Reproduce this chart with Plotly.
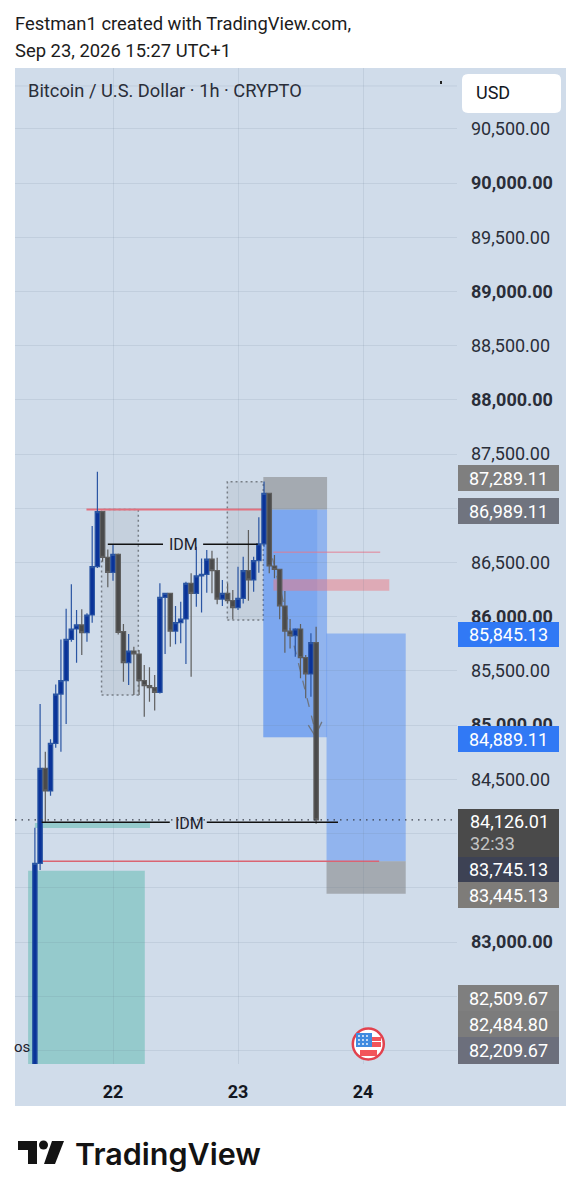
import plotly.graph_objects as go

# ---------- data ----------
hours = list(range(-15, 40))
opens = [81700,83726,84602,84393,84832,85287,85410,85791,85887,85924,85853,86016,86462,86969,86548,86409,86575,85862,85576,85684,85656,85410,85364,85346,85303,86179,86216,85868,85945,85979,86308,86216,86376,86391,86532,86425,86163,86216,86148,86084,86170,86425,86339,86517,86671,87138,86468,86437,86099,85868,85825,85887,85622,85472,85761]
highs = [84054,85195,84755,84869,85376,85791,86074,86299,86062,86068,86031,86837,87338,86969,86621,86661,86584,85933,85841,85724,85693,85555,85533,85463,86308,86222,86216,86099,86139,86323,86400,86646,86538,86615,86609,86545,86339,86308,86246,86462,86554,86800,86554,86917,87246,87138,86569,86437,86237,85979,85893,85933,85647,85847,85908]
lows = [81600,83664,84110,84350,84792,84755,85011,85770,85576,85647,85770,85945,86450,86508,86271,86332,85837,85401,85370,85278,85278,85078,85216,85134,85293,85656,85724,85745,85755,85564,85447,86093,86040,86222,86216,86114,86099,86123,85976,86062,86123,86148,86231,86406,86646,86400,86354,85976,85668,85708,85632,85432,85247,85263,84090]
closes = [83726,84602,84393,84832,85287,85410,85791,85887,85924,85853,86016,86462,86969,86548,86409,86575,85856,85576,85684,85656,85410,85364,85346,85303,86179,86216,85868,85945,85979,86308,86216,86376,86391,86532,86425,86163,86216,86148,86084,86170,86425,86339,86517,86671,87138,86468,86437,86099,85868,85825,85887,85622,85472,85761,84126.01]

price_ticks = list(range(82000, 90501, 500))
hidden_ticks = [82000, 82500, 83500, 84000, 87000]   # covered by the price flags in the reference
day_hours = [0, 24, 48]
day_labels = ["22", "23", "24"]
Y_RANGE = [81875, 91060.6]
X_RANGE = [-18.82, 66.05]

BG = "#d0dcea"
GRID = "rgba(110,125,150,0.15)"

# page pixel helpers for the page furniture (header, flags, logo)
def X(px):
    return (px - 15) / 442
def Y(py):
    return (1064 - py) / 996

fig = go.Figure(go.Candlestick(
    x=hours, open=opens, high=highs, low=lows, close=closes,
    increasing=dict(line=dict(color="#2a55a3", width=1.2), fillcolor="#0a3399"),
    decreasing=dict(line=dict(color="#5e5e5e", width=1.2), fillcolor="#4a4a4a"),
    whiskerwidth=0, showlegend=False, hoverinfo="skip",
))

shapes = []
def rect(x0, x1, y0, y1, fill, layer="below", line=None):
    shapes.append(dict(type="rect", xref="x", yref="y", x0=x0, x1=x1, y0=y0, y1=y1,
                       fillcolor=fill, line=line or dict(width=0), layer=layer))
def hline(x0, x1, y, color, width=1, dash="solid", layer="below"):
    shapes.append(dict(type="line", xref="x", yref="y", x0=x0, x1=x1, y0=y, y1=y,
                       line=dict(color=color, width=width, dash=dash), layer=layer))
def prect(x0, x1, y0, y1, fill, layer="below"):
    shapes.append(dict(type="rect", xref="paper", yref="paper", x0=X(x0), x1=X(x1), y0=Y(y1), y1=Y(y0),
                       fillcolor=fill, line=dict(width=0), layer=layer))

# panel band around the pane (price scale + time scale)
prect(15, 566, 68, 1106, BG)

# drawings
dotted = dict(color="#777d85", width=1.5, dash="2px,3px")
rect(-2.2, 4.86, 85278, 86989, "rgba(120,130,140,0.13)", line=dotted)
rect(21.95, 28.86, 85970, 87245, "rgba(120,130,140,0.13)", line=dotted)

rect(28.86, 41.1, 84889.11, 86989.11, "rgba(49,121,245,0.40)")
rect(28.86, 39.2, 84889.11, 86989.11, "rgba(49,121,245,0.22)")
rect(28.86, 41.1, 86989.11, 87289.11, "rgba(120,120,120,0.5)")
rect(41.0, 56.2, 83745.13, 85845.13, "rgba(49,121,245,0.40)")
rect(41.0, 56.2, 83445.13, 83745.13, "rgba(120,120,120,0.5)")

rect(30.8, 53.05, 86240, 86345, "rgba(236,120,130,0.5)")
hline(30.8, 51.3, 86594, "rgba(230,120,140,0.6)", 1.5)
hline(-5.1, 28.86, 86989.11, "#e4707e", 2)
hline(-13.7, 51.1, 83745.13, "#da6472", 1.5)

rect(-16.3, 6.1, 81875, 83658, "rgba(60,175,160,0.40)")
rect(-15, 7.1, 84052, 84098, "rgba(60,175,160,0.40)")

hline(-18.82, 66.05, 84126.01, "#3a3f4a", 1.4, "1.5px,5px", layer="above")
hline(-1, 9.6, 86668, "#111111", 1.6, layer="above")
hline(17.3, 27.8, 86668, "#111111", 1.6, layer="above")
hline(-13.7, 10.9, 84104, "#111111", 1.6, layer="above")
hline(18, 43.2, 84104, "#111111", 1.6, layer="above")

# dashed arrow
shapes.append(dict(type="line", xref="x", yref="y", x0=29.8, x1=38.8, y0=86700, y1=84950,
                   line=dict(color="#6e7682", width=1.3, dash="dash"), layer="below"))
shapes.append(dict(type="path", xref="x", yref="y", path="M 37.5 85000 L 38.8 84900 L 40.1 85030",
                   line=dict(color="#6e7682", width=1.3), layer="below"))

# faint line at the top of the pane
hline(-18.82, 66.05, 90895, GRID, 1)
prect(440, 442, 81, 84, "#222222", layer="above")

# USD button
def rounded(x0, y0, x1, y1, r):
    p = lambda a, b: f"{X(a):.5f} {Y(b):.5f}"
    return (f"M {p(x0+r,y0)} L {p(x1-r,y0)} Q {p(x1,y0)} {p(x1,y0+r)} L {p(x1,y1-r)} Q {p(x1,y1)} {p(x1-r,y1)} "
            f"L {p(x0+r,y1)} Q {p(x0,y1)} {p(x0,y1-r)} L {p(x0,y0+r)} Q {p(x0,y0)} {p(x0+r,y0)} Z")
shapes.append(dict(type="path", xref="paper", yref="paper", path=rounded(462, 74, 561, 113, 6),
                   fillcolor="#ffffff", line=dict(width=0), layer="above"))

# event flag icon
def circle(cx, cy, r, fill, line=None):
    shapes.append(dict(type="circle", xref="paper", yref="paper", x0=X(cx-r), x1=X(cx+r), y0=Y(cy+r), y1=Y(cy-r),
                       fillcolor=fill, line=line or dict(width=0), layer="above"))
circle(368.3, 1044, 15.5, "#ffffff", dict(color="#e2424e", width=2.5))
prect(356, 372, 1033, 1047, "#3f8be0", layer="above")
prect(372, 381, 1037, 1041, "#f2555a", layer="above")
prect(372, 381, 1042, 1047, "#f2555a", layer="above")
prect(360, 377, 1050, 1056, "#f2555a", layer="above")
for cy in (1036, 1040, 1044):
    for cx in (359, 363, 367):
        circle(cx, cy, 0.9, "#ffffff")

# TradingView logo mark
def poly(points, fill="#131313"):
    path = "M " + " L ".join(f"{X(a):.5f} {Y(b):.5f}" for a, b in points) + " Z"
    shapes.append(dict(type="path", xref="paper", yref="paper", path=path, fillcolor=fill,
                       line=dict(width=0), layer="above"))
poly([(18, 1141), (37, 1141), (37, 1164), (28, 1164), (28, 1150), (18, 1150)])
circle(43.5, 1145, 4.5, "#131313")
poly([(52, 1141), (64, 1141), (55, 1164), (44, 1164)])

# ---------- text ----------
ann = []
def text(px, py, s, size=16, color="#1e222d", anchor="left", family="Roboto", weight=None):
    ann.append(dict(xref="paper", yref="paper", x=X(px - 2), y=Y(py), text=s, showarrow=False,
                    xanchor=anchor, yanchor="middle", align="left",
                    font=dict(family=family, size=size, color=color, weight=weight)))
def flag(y0, y1, s, bg):
    ann.append(dict(xref="paper", yref="paper", x=X(458), y=Y((y0 + y1) / 2), text=s, showarrow=False,
                    xanchor="left", yanchor="middle", align="center", width=101, height=y1 - y0,
                    bgcolor=bg, borderpad=0, borderwidth=0, valign="middle",
                    font=dict(family="Roboto", size=18, color="#ffffff")))

text(15, 24, "Festman1 created with TradingView.com,", 18.4, "#1c1c1c")
text(15, 50, "Sep 23, 2026 15:27 UTC+1", 18.4, "#1c1c1c")
text(28, 91, "Bitcoin / U.S. Dollar · 1h · CRYPTO", 18.3, "#2a2e39")
text(476, 93, "USD", 18, "#131722")
text(169, 544, "IDM", 16, "#1e222d")
text(175, 823, "IDM", 16, "#1e222d")
text(14, 1047, "os", 15, "#1e222d")
text(75, 1153, "TradingView", 30.5, "#131313", family="Inter", weight=600)

flag(465, 491, "87,289.11", "#7f7f7f")
flag(498, 524, "86,989.11", "#70747f")
flag(622, 647, "85,845.13", "#3179f5")
flag(726, 752, "84,889.11", "#3179f5")
flag(809, 857, " ", "#4a4a4a")
flag(857, 882, "83,745.13", "#3d4254")
flag(882, 908, "83,445.13", "#7e7c79")
flag(985, 1011, "82,509.67", "#7f7f7f")
flag(1011, 1037, "82,484.80", "#7c7c7c")
flag(1037, 1064, "82,209.67", "#6c6f7c")
text(470, 821, "84,126.01", 18, "#ffffff")
text(470, 843, "32:33", 18, "#c4c4c4")

def price_label(p):
    if p in hidden_ticks:
        return " "
    s = f"{p:,.2f}"
    return f"<b>{s}</b>" if p % 1000 == 0 else s

fig.update_layout(
    width=582, height=1199, autosize=False,
    margin=dict(l=15, r=125, t=68, b=135, pad=0),
    paper_bgcolor="#ffffff", plot_bgcolor=BG, boxgap=0.1, boxgroupgap=0.07,
    showlegend=False, shapes=shapes, annotations=ann,
    font=dict(family="Roboto", color="#1e222d"),
    xaxis=dict(range=X_RANGE, tickmode="array", tickvals=day_hours,
               ticktext=[f"<b>{d}</b>" for d in day_labels],
               showgrid=True, gridcolor=GRID, gridwidth=1, zeroline=False, showline=False,
               rangeslider=dict(visible=False), ticks="", ticklabelstandoff=15,
               tickfont=dict(family="Roboto", size=18, color="#131722")),
    yaxis=dict(range=Y_RANGE, side="right", tickmode="array", tickvals=price_ticks,
               ticktext=[price_label(p) for p in price_ticks],
               showgrid=True, gridcolor=GRID, gridwidth=1, zeroline=False, showline=False,
               ticks="", ticklabelstandoff=13,
               tickfont=dict(family="Roboto", size=18, color="#2a2e39")),
)

fig.write_html("out.html", config=dict(displayModeBar=False),
               post_script="document.body.style.margin='0';")
